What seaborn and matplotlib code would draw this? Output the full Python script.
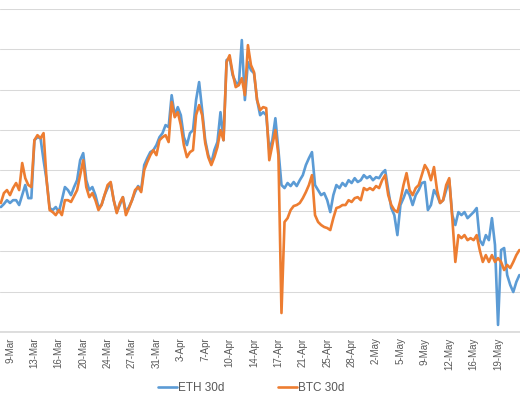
import numpy as np
import pandas as pd
import matplotlib
matplotlib.use("Agg")
import matplotlib.pyplot as plt
import seaborn as sns

# 30-day volatility (one value roughly every 10.5 hours)
eth_30d = [61.9, 63.4, 65.3, 63.9, 65.3, 65.3, 62.9, 67.8, 72.8, 66.3,
           66.3, 95.0, 96.5, 96.0, 85.1, 75.2, 61.4, 60.4, 61.9, 59.4,
           65.3, 71.8, 70.3, 67.8, 71.8, 75.2, 85.1, 88.6, 75.2, 70.3,
           71.8, 67.8, 61.9, 62.9, 67.8, 71.3, 73.8, 65.3, 59.4, 62.9,
           66.8, 59.4, 61.9, 65.3, 69.3, 72.3, 70.3, 82.7, 86.1, 89.1,
           90.1, 92.6, 96.5, 98.5, 102.5, 101.5, 117.3, 107.4, 111.4, 107.4,
           96.5, 92.6, 98.5, 100.0, 114.9, 123.8, 109.9, 95.0, 87.6, 83.7,
           90.1, 94.1, 108.9, 95.0, 134.7, 135.6, 127.2, 123.8, 122.3, 144.6,
           114.9, 133.7, 129.7, 128.2, 114.9, 107.4, 108.9, 107.4, 90.1, 95.0,
           105.9, 90.1, 72.8, 71.3, 73.8, 72.3, 74.3, 72.3, 75.2, 77.7,
           82.7, 86.1, 89.1, 72.8, 70.3, 67.8, 68.8, 65.3, 59.4, 67.8,
           72.8, 71.3, 73.8, 72.3, 75.2, 73.8, 76.2, 74.3, 75.2, 77.7,
           76.2, 77.2, 75.2, 76.7, 76.2, 78.7, 80.2, 70.3, 61.4, 57.9,
           48.0, 62.9, 66.3, 70.3, 67.8, 62.9, 67.8, 70.3, 73.8, 74.3,
           60.4, 62.9, 70.3, 67.8, 63.9, 65.3, 70.3, 75.2, 57.9, 53.0,
           59.4, 57.9, 59.4, 56.4, 57.9, 59.4, 61.4, 45.5, 43.1, 48.0,
           45.5, 56.4, 43.1, 3.5, 40.6, 41.6, 28.2, 23.3, 19.8, 24.8,
           28.2]

btc_30d = [63.9, 68.8, 70.3, 67.8, 71.3, 73.8, 70.3, 83.7, 76.2, 72.8,
           71.8, 95.0, 97.5, 96.0, 98.5, 75.2, 60.4, 59.4, 57.9, 60.4,
           57.9, 65.3, 65.3, 64.4, 67.3, 70.3, 77.7, 85.1, 71.8, 66.8,
           68.8, 65.3, 60.4, 62.9, 67.8, 72.8, 74.3, 65.3, 58.9, 63.9,
           66.8, 57.9, 61.4, 65.3, 70.3, 71.8, 69.3, 80.2, 84.2, 87.6,
           90.1, 87.6, 95.0, 96.5, 97.5, 94.1, 113.9, 106.4, 108.9, 102.5,
           92.6, 86.6, 89.1, 90.1, 107.4, 112.4, 107.4, 93.6, 86.6, 82.7,
           86.6, 91.6, 100.0, 95.0, 133.7, 137.1, 128.2, 121.3, 122.3, 125.7,
           117.3, 142.1, 132.2, 128.7, 114.9, 109.9, 111.4, 110.9, 85.1, 92.6,
           100.0, 87.6, 9.4, 54.5, 56.4, 60.4, 62.4, 62.9, 63.9, 66.3,
           69.3, 72.8, 77.7, 57.9, 54.5, 53.0, 52.0, 51.5, 50.5, 56.4,
           61.4, 61.9, 62.9, 62.9, 65.3, 64.4, 66.3, 66.8, 65.3, 71.3,
           70.3, 71.3, 70.3, 72.3, 71.3, 75.2, 77.7, 67.8, 62.9, 60.4,
           59.4, 65.3, 72.8, 78.7, 70.3, 67.8, 71.3, 72.8, 77.7, 82.7,
           80.2, 75.2, 81.7, 70.3, 63.9, 65.3, 72.8, 76.2, 56.4, 34.7,
           48.0, 46.5, 48.0, 45.5, 46.5, 45.5, 48.0, 40.6, 34.7, 38.1,
           34.7, 38.1, 34.7, 36.6, 34.7, 30.7, 33.2, 31.7, 34.7, 38.1,
           40.6]

date_labels = ['9-Mar', '13-Mar', '16-Mar', '20-Mar', '24-Mar', '27-Mar', '31-Mar',
               '3-Apr', '7-Apr', '10-Apr', '14-Apr', '17-Apr', '21-Apr', '25-Apr',
               '28-Apr', '2-May', '5-May', '9-May', '12-May', '16-May', '19-May']

df = pd.DataFrame({'t': range(len(eth_30d)), 'ETH 30d': eth_30d, 'BTC 30d': btc_30d})
long_df = df.melt(id_vars='t', var_name='series', value_name='vol')

sns.set_theme(style="whitegrid")
plt.rcParams['font.family'] = ['Liberation Sans', 'DejaVu Sans']

fig = plt.figure(figsize=(5.2, 4), dpi=100)
ax = fig.add_axes([0, 0.17, 1, 0.8075])
sns.lineplot(data=long_df, x='t', y='vol', hue='series',
             palette={'ETH 30d': '#5B9BD5', 'BTC 30d': '#ED7D31'},
             linewidth=1.9, ax=ax)

ax.set_xlim(-0.28, 170.2)
ax.set_ylim(0, 160)
ax.set_yticks(np.arange(0, 161, 20))
ax.tick_params(axis='y', labelleft=False, length=0)
ax.set_xticks(np.arange(3, len(eth_30d), 8))
ax.set_xticklabels(date_labels, rotation=90, fontsize=7, color='#595959')
ax.tick_params(axis='x', length=0, pad=4)
ax.grid(axis='x', visible=False)
ax.grid(axis='y', color='#D9D9D9', linewidth=0.75)
for s in ['left', 'right', 'top']:
    ax.spines[s].set_visible(False)
ax.spines['bottom'].set_color('#D9D9D9')
ax.set_xlabel('')
ax.set_ylabel('')

handles, labels = ax.get_legend_handles_labels()
ax.get_legend().remove()
fig.legend(handles, labels, loc='center', bbox_to_anchor=(0.483, 0.03), ncol=2,
           frameon=False, fontsize=8.5, handlelength=1.6, handletextpad=0.1,
           columnspacing=4.5, labelcolor='#595959')

fig.savefig('out.png', dpi=100)
